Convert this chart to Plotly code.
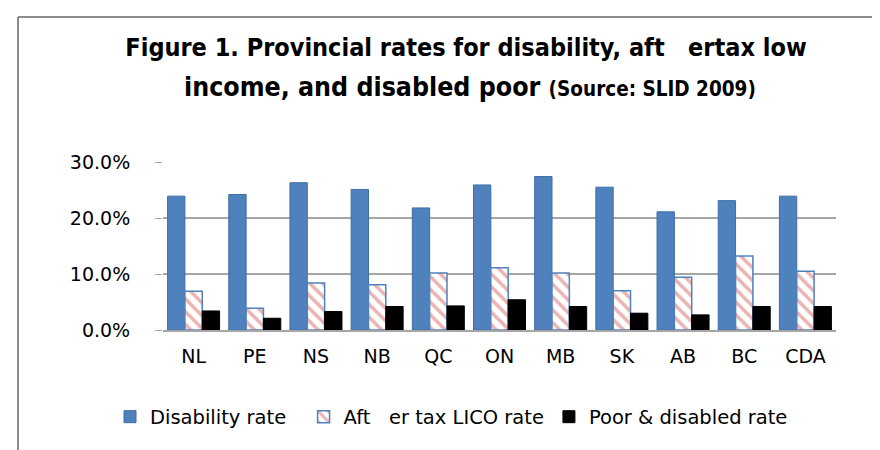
import plotly.graph_objects as go

categories = ["NL", "PE", "NS", "NB", "QC", "ON", "MB", "SK", "AB", "BC", "CDA"]
disability_rate = [0.239, 0.242, 0.263, 0.251, 0.218, 0.259, 0.274, 0.255, 0.211, 0.231, 0.239]
lico_rate = [0.069, 0.039, 0.084, 0.081, 0.102, 0.111, 0.102, 0.070, 0.094, 0.132, 0.105]
poor_disabled_rate = [0.034, 0.021, 0.033, 0.042, 0.043, 0.054, 0.042, 0.030, 0.027, 0.042, 0.042]
y_ticks = [0.0, 0.1, 0.2, 0.3]

NB = "\u00a0"
W, H = 880, 450
L, R, T, B = 155, 52, 154, 128
pw, ph = W - L - R, H - T - B

def px_x(p):
    return (p - L) / pw

def px_y(p):
    return (H - B - p) / ph

fig = go.Figure()
fig.add_trace(go.Bar(
    x=categories, y=disability_rate, name="Disability rate" + NB * 2,
    marker=dict(color="#4F81BD", line=dict(color="#3E6DA6", width=1)),
))
fig.add_trace(go.Bar(
    x=categories, y=lico_rate, name="Aft" + NB * 3 + "er tax LICO rate",
    marker=dict(color="white", line=dict(color="#4F81BD", width=1.5),
                pattern=dict(shape="\\", fgcolor="#D46A66", bgcolor="white",
                             size=9, solidity=0.4)),
))
fig.add_trace(go.Bar(
    x=categories, y=poor_disabled_rate, name="Poor & disabled rate",
    marker=dict(color="#000000", line=dict(color="#000000", width=1)),
))

font_fam = "DejaVu Sans, Verdana, sans-serif"
title_fam = "Liberation Sans Narrow, DejaVu Sans Condensed, Arial Narrow, sans-serif"

fig.update_layout(
    width=W, height=H,
    margin=dict(l=L, r=R, t=T, b=B, autoexpand=False),
    paper_bgcolor="white", plot_bgcolor="white",
    barmode="group", bargap=0.15, bargroupgap=0.0,
    title=dict(
        text="<b>Figure 1. Provincial rates for disability, aft" + NB * 3 + "ertax low</b>",
        x=458 / W, xanchor="center", xref="container",
        y=1 - 39 / H, yanchor="middle", yref="container",
        font=dict(family=title_fam, size=25, color="black"),
    ),
    font=dict(family=font_fam, size=18, color="black"),
    showlegend=True,
    legend=dict(
        orientation="h", x=px_x(102), xanchor="left", y=px_y(409), yanchor="middle",
        font=dict(family=font_fam, size=19.5, color="black"),
        itemwidth=30, traceorder="normal", bgcolor="rgba(0,0,0,0)",
    ),
    annotations=[dict(
        text="<b>income, and disabled poor <span style='font-size:20.5px'>(Source: SLID 2009)</span></b>",
        x=px_x(462), y=px_y(78), xref="paper", yref="paper",
        xanchor="center", yanchor="middle", showarrow=False,
        font=dict(family=title_fam, size=26.5, color="black"),
    )],
    shapes=[
        dict(type="line", xref="paper", yref="paper",
             x0=px_x(10), x1=px_x(900), y0=px_y(9), y1=px_y(9),
             line=dict(color="#8C8C8C", width=2)),
        dict(type="line", xref="paper", yref="paper",
             x0=px_x(10), x1=px_x(10), y0=px_y(9), y1=px_y(470),
             line=dict(color="#8C8C8C", width=2)),
    ],
)

fig.update_yaxes(
    range=[0, 0.30], tickvals=y_ticks, tickformat=".1%",
    showgrid=True, gridcolor="#A6A6A6", gridwidth=2,
    zeroline=False, showline=False,
    ticks="outside", ticklen=7, tickcolor="#A6A6A6", tickwidth=1,
    ticklabelstandoff=21,
    tickfont=dict(family=font_fam, size=19, color="black"),
)
fig.update_xaxes(
    showgrid=False, showline=True, linecolor="#A6A6A6", linewidth=2,
    ticks="", ticklabelstandoff=8,
    tickfont=dict(family=font_fam, size=19, color="black"),
)

fig.write_html("out.html")
